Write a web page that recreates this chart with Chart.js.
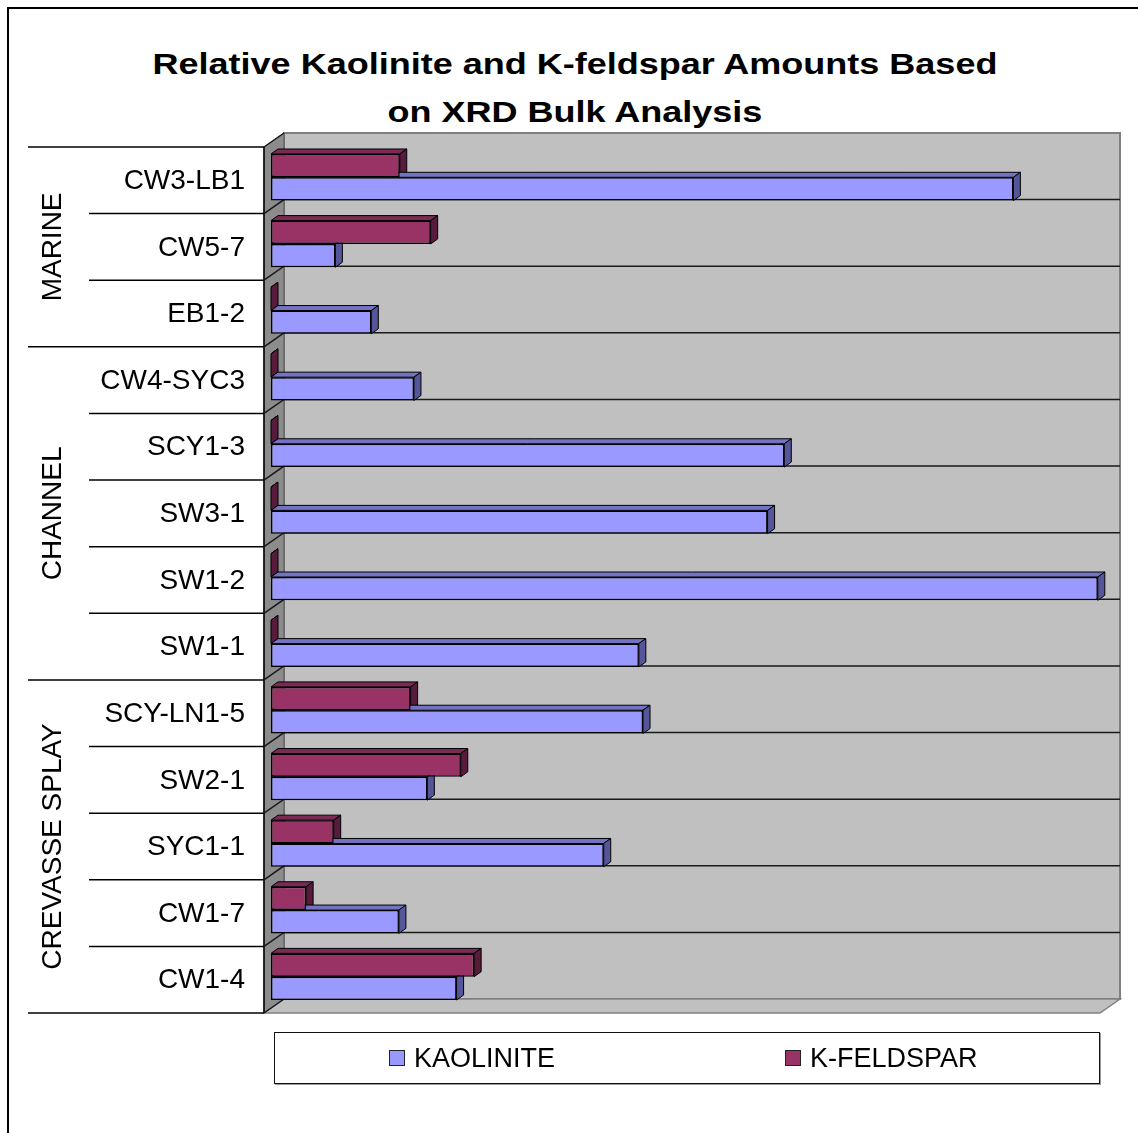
<!DOCTYPE html>
<html>
<head>
<meta charset="utf-8">
<script src="https://cdn.jsdelivr.net/npm/chart.js@4.4.1/dist/chart.umd.min.js"></script>
<style>
  html, body { margin: 0; padding: 0; background: #fff; }
  body { width: 1138px; height: 1133px; position: relative; overflow: hidden;
         font-family: Arial, "Liberation Sans", sans-serif; }
  #frame { position: absolute; left: 7px; top: 7px; width: 1300px; height: 1300px;
           border-left: 2px solid #000; border-top: 2px solid #000; }
  #title { position: absolute; left: 0; top: 40px; width: 1150px; text-align: center;
           font-weight: bold; font-size: 30px; line-height: 48px; color: #000;
           transform: scaleX(1.2); transform-origin: 575px 0; }
  #chart { position: absolute; left: 0; top: 0; }
  #legend { position: absolute; left: 274px; top: 1032px; width: 824px; height: 50px;
            border: 1.5px solid #111; box-shadow: 1px 1px 0 #999; }
  .item { position: absolute; top: 0; height: 50px; display: flex; align-items: center;
          font-size: 27px; color: #000; }
  .sw { width: 14px; height: 14px; border: 1.5px solid #222; margin-right: 9px; }
</style>
</head>
<body>
<div id="frame"></div>
<div id="title">Relative Kaolinite and K-feldspar Amounts Based<br>on XRD Bulk Analysis</div>
<canvas id="chart" width="1138" height="1133"></canvas>
<div id="legend"></div>
<script>
"use strict";

// ---------------- data ----------------
const categories = ["CW3-LB1", "CW5-7", "EB1-2", "CW4-SYC3", "SCY1-3", "SW3-1", "SW1-2",
                    "SW1-1", "SCY-LN1-5", "SW2-1", "SYC1-1", "CW1-7", "CW1-4"];
const kaolinite = [88.8, 7.7, 12.0, 17.1, 61.4, 59.4, 98.9, 44.0, 44.5, 18.7, 39.8, 15.3, 22.2];
const kFeldspar = [15.4, 19.1, 0, 0, 0, 0, 0, 0, 16.7, 22.7, 7.5, 4.2, 24.3];
const groupNames = ["MARINE", "CHANNEL", "CREVASSE SPLAY"];
const groupSizes = [3, 5, 5];

// ---------------- 3d look ----------------
const BAR_DX = 7, BAR_DY = 5;      // depth of each bar
const WALL_DX = 20, WALL_DY = 14;  // depth of the walls
const FONT = 'Arial, "Liberation Sans", sans-serif';

function poly(ctx, pts, fill, stroke, lw) {
  ctx.beginPath();
  ctx.moveTo(pts[0][0], pts[0][1]);
  for (let i = 1; i < pts.length; i++) ctx.lineTo(pts[i][0], pts[i][1]);
  ctx.closePath();
  if (fill) { ctx.fillStyle = fill; ctx.fill(); }
  if (stroke) { ctx.strokeStyle = stroke; ctx.lineWidth = lw || 1; ctx.stroke(); }
}

function frontPlane(chart) {
  const a = chart.chartArea;
  return { l: a.left - 7, r: a.right - 7, t: a.top + 3, b: a.bottom + 3 };
}

const walls3d = {
  id: "walls3d",
  beforeDatasetsDraw(chart) {
    const ctx = chart.ctx;
    const f = frontPlane(chart);
    const bk = { l: f.l + WALL_DX, r: f.r + WALL_DX, t: f.t - WALL_DY, b: f.b - WALL_DY };
    const rowH = (f.b - f.t) / categories.length;
    ctx.save();
    // back wall
    poly(ctx, [[bk.l, bk.t], [bk.r, bk.t], [bk.r, bk.b], [bk.l, bk.b]], "#c0c0c0", "#808080", 2);
    // floor
    poly(ctx, [[f.l, f.b], [bk.l, bk.b], [bk.r, bk.b], [f.r, f.b]], "#c0c0c0", "#808080", 1.5);
    // left wall
    poly(ctx, [[f.l, f.t], [bk.l, bk.t], [bk.l, bk.b], [f.l, f.b]], "#8c8c8c", "#555", 1);
    ctx.beginPath();
    ctx.moveTo(f.l, f.t); ctx.lineTo(f.l, f.b);
    ctx.strokeStyle = "#000"; ctx.lineWidth = 1.5; ctx.stroke();
    // grid lines: across the back wall and diagonal on the left wall
    ctx.strokeStyle = "#1a1a1a"; ctx.lineWidth = 1.5;
    for (let i = 0; i <= categories.length; i++) {
      const y = f.t + i * rowH;
      ctx.beginPath();
      ctx.moveTo(f.l, y); ctx.lineTo(bk.l, y - WALL_DY);
      if (i > 0 && i < categories.length) ctx.lineTo(bk.r, y - WALL_DY);
      ctx.stroke();
    }
    // top and side faces of every bar (front faces are drawn by Chart.js)
    chart.data.datasets.forEach((ds, di) => {
      const meta = chart.getDatasetMeta(di);
      meta.data.forEach((bar) => {
        const p = bar.getProps(["x", "y", "base", "height"], true);
        const t = p.y - p.height / 2, b = p.y + p.height / 2;
        const x0 = p.base, x1 = p.x;
        poly(ctx, [[x0, t], [x0 + BAR_DX, t - BAR_DY], [x1 + BAR_DX, t - BAR_DY], [x1, t]],
             ds.topColor, "#000", 1);
        poly(ctx, [[x1, t], [x1 + BAR_DX, t - BAR_DY], [x1 + BAR_DX, b - BAR_DY], [x1, b]],
             ds.sideColor, "#000", 1);
      });
    });
    ctx.restore();
  },
  afterDraw(chart) {
    const ctx = chart.ctx;
    const f = frontPlane(chart);
    const rowH = (f.b - f.t) / categories.length;
    const bounds = [0];
    groupSizes.forEach((n) => bounds.push(bounds[bounds.length - 1] + n));
    ctx.save();
    ctx.strokeStyle = "#000"; ctx.lineWidth = 1.5;
    for (let i = 0; i <= categories.length; i++) {
      const y = f.t + i * rowH;
      ctx.beginPath();
      ctx.moveTo(bounds.includes(i) ? 28 : 89, y);
      ctx.lineTo(f.l, y);
      ctx.stroke();
    }
    // rotated group names
    ctx.fillStyle = "#000";
    ctx.font = "28px " + FONT;
    ctx.textAlign = "center"; ctx.textBaseline = "middle";
    groupNames.forEach((name, g) => {
      const yc = f.t + ((bounds[g] + bounds[g + 1]) / 2) * rowH;
      ctx.save();
      ctx.translate(53, yc);
      ctx.rotate(-Math.PI / 2);
      ctx.fillText(name, 0, 0);
      ctx.restore();
    });
    ctx.restore();
  },
};

// ---------------- chart ----------------
const chart = new Chart(document.getElementById("chart"), {
  type: "bar",
  data: {
    labels: categories,
    datasets: [
      { label: "K-FELDSPAR", data: kFeldspar, backgroundColor: "#993366",
        topColor: "#7a2a55", sideColor: "#571b3b",
        borderColor: "#000", borderWidth: 1.5, borderSkipped: false },
      { label: "KAOLINITE", data: kaolinite, backgroundColor: "#9999ff",
        topColor: "#7373c4", sideColor: "#55559a",
        borderColor: "#000", borderWidth: 1.5, borderSkipped: false },
    ],
  },
  options: {
    indexAxis: "y",
    responsive: false,
    animation: false,
    devicePixelRatio: 1,
    layout: { padding: { left: 44, top: 144, right: 31, bottom: 123 } },
    datasets: { bar: { categoryPercentage: 0.7, barPercentage: 1.0 } },
    plugins: { legend: { display: false }, title: { display: false }, tooltip: { enabled: false } },
    scales: {
      x: { display: false, min: 0, max: 100 },
      y: {
        grid: { display: false, drawTicks: false },
        border: { display: false },
        ticks: { color: "#000", font: { family: FONT, size: 28 }, padding: 26, labelOffset: 4 },
        afterFit: (scale) => { scale.width = 227; scale.paddingTop = 0; scale.paddingBottom = 0; },
      },
    },
  },
  plugins: [walls3d],
});

// ---------------- legend ----------------
const legendOrder = [1, 0];
const legendLeft = [114, 510];
buildLegend();
function buildLegend() {
  const box = document.getElementById("legend");
  legendOrder.forEach((di, k) => {
    const ds = chart.data.datasets[di];
    const item = document.createElement("div");
    item.className = "item";
    item.style.left = legendLeft[k] + "px";
    item.innerHTML = `<span class="sw" style="background:${ds.backgroundColor}"></span>${ds.label}`;
    box.appendChild(item);
  });
}
</script>
</body>
</html>
